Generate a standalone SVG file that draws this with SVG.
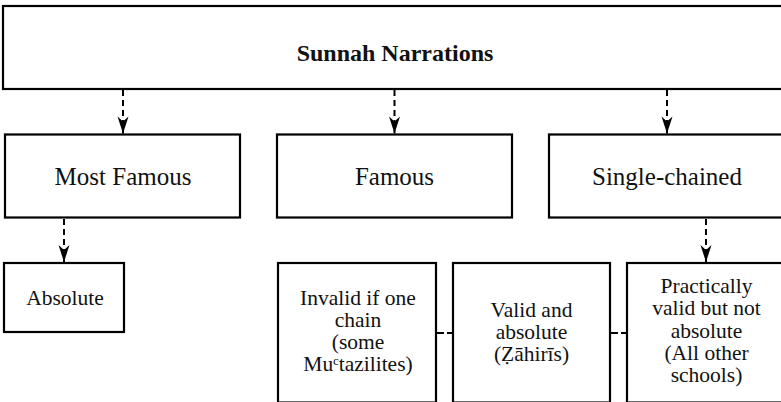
<svg xmlns="http://www.w3.org/2000/svg" width="781" height="402" viewBox="0 0 781 402">
<style>
.box{fill:#fff;stroke:#000;stroke-width:2.2}
.t{fill:#111;text-anchor:middle}
.l{font-size:25px}
.s{font-size:21.5px}
.b{font-size:24px;font-weight:bold}
.dash{fill:none;stroke:#000;stroke-width:2;stroke-dasharray:6,4}
</style>
<defs>
<marker id="ah" markerUnits="userSpaceOnUse" markerWidth="20" markerHeight="14" viewBox="-18 -7 20 14" refX="0" refY="0" orient="auto">
<path d="M0,0 L-17,-5.5 L-12,0 L-17,5.5 Z" fill="#000"/>
</marker>
</defs>
<rect width="781" height="402" fill="#fff"/>
<g id="connectors">
<line class="dash" x1="123" y1="90" x2="123" y2="133.5" marker-end="url(#ah)"/>
<line class="dash" x1="394.5" y1="90" x2="394.5" y2="133.5" marker-end="url(#ah)"/>
<line class="dash" x1="667" y1="90" x2="667" y2="133.5" marker-end="url(#ah)"/>
<line class="dash" x1="64" y1="219" x2="64" y2="262" marker-end="url(#ah)"/>
<line class="dash" x1="706" y1="219" x2="706" y2="262" marker-end="url(#ah)"/>
<line class="dash" x1="437" y1="333" x2="453" y2="333" style="stroke-dasharray:7,3"/>
<line class="dash" x1="611" y1="333" x2="627" y2="333" style="stroke-dasharray:7,3"/>
</g>
<g font-family="'Liberation Serif', 'DejaVu Serif', 'Times New Roman', serif">
<g id="sunnah">
<rect class="box" x="3" y="6" width="785" height="83"/>
<text class="t b" x="395" y="61">Sunnah Narrations</text>
</g>
<g id="most-famous">
<rect class="box" x="5" y="134.5" width="235" height="83"/>
<text class="t l" x="123" y="185">Most Famous</text>
</g>
<g id="famous">
<rect class="box" x="277" y="134.5" width="235" height="83"/>
<text class="t l" x="394.5" y="185">Famous</text>
</g>
<g id="single-chained">
<rect class="box" x="549" y="134.5" width="238" height="83"/>
<text class="t l" x="667" y="185">Single-chained</text>
</g>
<g id="absolute">
<rect class="box" x="4" y="263" width="120" height="69"/>
<text class="t s" x="65" y="305">Absolute</text>
</g>
<g id="invalid">
<rect class="box" x="278" y="263" width="158" height="139.5"/>
<text class="t s" x="358" y="305">Invalid if one</text>
<text class="t s" x="358" y="327">chain</text>
<text class="t s" x="358" y="349">(some</text>
<text class="t s" x="358" y="371">Muᶜtazilites)</text>
</g>
<g id="valid">
<rect class="box" x="453" y="263" width="157" height="139.5"/>
<text class="t s" x="531.5" y="316.5">Valid and</text>
<text class="t s" x="531.5" y="338.5">absolute</text>
<text class="t s" x="531.5" y="360.5">(Ẓāhirīs)</text>
</g>
<g id="practically">
<rect class="box" x="627" y="263" width="160" height="139.5"/>
<text class="t s" x="706.5" y="293">Practically</text>
<text class="t s" x="706.5" y="315">valid but not</text>
<text class="t s" x="706.5" y="337.5">absolute</text>
<text class="t s" x="706.5" y="360">(All other</text>
<text class="t s" x="706.5" y="382">schools)</text>
</g>
</g>
</svg>
